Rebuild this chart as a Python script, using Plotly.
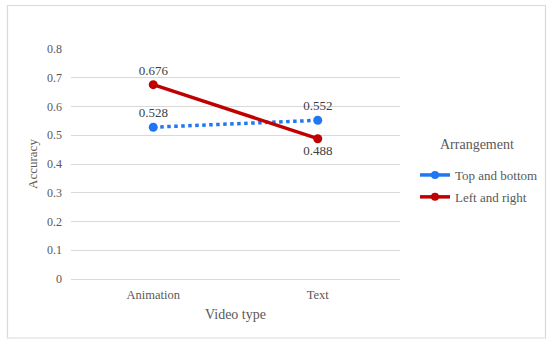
import plotly.graph_objects as go

categories = ["Animation", "Text"]
top_bottom = [0.528, 0.552]
left_right = [0.676, 0.488]
y_ticks = [0, 0.1, 0.2, 0.3, 0.4, 0.5, 0.6, 0.7, 0.8]
y_tick_text = ["0", "0.1", "0.2", "0.3", "0.4", "0.5", "0.6", "0.7", "0.8"]

FONT = "Liberation Serif, Times New Roman, serif"
GRAY = "#595959"
BLUE = "#1F77F4"
RED = "#C00000"

L, R, T, B = 71, 150, 49, 63
PW, PH = 550 - L - R, 342 - T - B

def px(x):
    return (x - L) / PW

def py(y):
    return (342 - B - y) / PH

fig = go.Figure()
fig.add_trace(go.Scatter(
    x=categories, y=top_bottom, name="Top and bottom",
    mode="lines+markers+text", showlegend=False,
    line=dict(color=BLUE, width=3.5, dash="dot"),
    marker=dict(size=9, color=BLUE),
    text=[f"{v:.3f}" for v in top_bottom],
    textposition=["top center", "top center"],
    textfont=dict(family=FONT, size=13, color="#404040"),
))
fig.add_trace(go.Scatter(
    x=categories, y=left_right, name="Left and right",
    mode="lines+markers+text", showlegend=False,
    line=dict(color=RED, width=3.5),
    marker=dict(size=9, color=RED),
    text=[f"{v:.3f}" for v in left_right],
    textposition=["top center", "bottom center"],
    textfont=dict(family=FONT, size=13, color="#404040"),
))
# legend entries (Excel-style solid legend keys)
fig.add_trace(go.Scatter(x=[None], y=[None], name="Top and bottom", mode="lines+markers",
                         legendgroup="a",
                         line=dict(color=BLUE, width=3.5), marker=dict(size=8, color=BLUE)))
fig.add_trace(go.Scatter(x=[None], y=[None], name="Left and right", mode="lines+markers",
                         legendgroup="b",
                         line=dict(color=RED, width=3.5), marker=dict(size=8, color=RED)))

fig.update_layout(
    width=550, height=342,
    margin=dict(l=L, r=R, t=T, b=B, autoexpand=False),
    paper_bgcolor="white", plot_bgcolor="white",
    font=dict(family=FONT, size=12, color=GRAY),
    showlegend=True,
    legend=dict(
        x=px(415), y=py(160), xanchor="left", yanchor="top",
        font=dict(family=FONT, size=13, color=GRAY),
        itemwidth=30, tracegroupgap=2, traceorder="grouped",
    ),
    annotations=[dict(
        text="Arrangement", xref="paper", yref="paper",
        x=px(477), y=py(144), xanchor="center", yanchor="middle",
        showarrow=False, font=dict(family=FONT, size=14, color=GRAY),
    )],
    xaxis=dict(
        type="category", range=[-0.5, 1.5],
        showgrid=False, showline=False, zeroline=False,
        ticks="", ticklabelstandoff=6,
        tickfont=dict(family=FONT, size=12.5, color=GRAY),
        title=dict(text="Video type", font=dict(family=FONT, size=14, color=GRAY), standoff=8),
    ),
    yaxis=dict(
        range=[0, 0.8], tickvals=y_ticks, ticktext=y_tick_text,
        showgrid=True, gridcolor="#D9D9D9", gridwidth=1,
        zeroline=True, zerolinecolor="#D9D9D9", zerolinewidth=1,
        showline=False, ticks="", ticklabelstandoff=8,
        tickfont=dict(family=FONT, size=12, color=GRAY),
        title=dict(text="Accuracy", font=dict(family=FONT, size=13, color=GRAY), standoff=6),
    ),
    shapes=[dict(
        type="rect", xref="paper", yref="paper",
        x0=px(7.5), x1=px(545.5), y0=py(338), y1=py(5.5),
        line=dict(color="#D9D9D9", width=1.2), fillcolor="rgba(0,0,0,0)", layer="above",
    )],
)

fig.write_html("out.html", config={"displayModeBar": False},
               post_script="document.body.style.margin='0';")
